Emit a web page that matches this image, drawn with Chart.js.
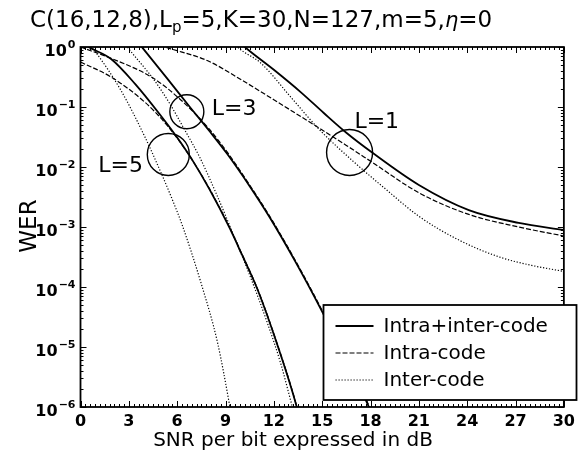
<!DOCTYPE html>
<html lang="en">
<head>
<meta charset="UTF-8">
<title>WER vs SNR</title>
<script src="https://cdn.jsdelivr.net/npm/chart.js@4"></script>
<style>
  html, body { margin: 0; padding: 0; background: #fff; }
  #werChart { display: block; }
</style>
</head>
<body>
<canvas id="werChart" width="580" height="454"></canvas>
<script>
// values: SNR per bit (dB) and WER for every curve
var l1SolidSnr  = [9.8, 10.2, 12.0, 13.7, 15.1, 16.5, 18.1, 21.0, 24.1, 27.2, 30];
var l1SolidWer  = [1.259, 1, 0.417, 0.174, 0.0794, 0.0372, 0.0174, 0.00501, 0.00191, 0.00117, 0.000891];
var l1DashedSnr = [4.5, 5.6, 7.9, 10.0, 12.0, 14.8, 16.5, 18.1, 21.0, 24.1, 27.2, 30];
var l1DashedWer = [1.148, 0.933, 0.589, 0.282, 0.132, 0.0447, 0.0229, 0.012, 0.00372, 0.00162, 0.001, 0.000708];
var l1DottedSnr = [9.3, 9.75, 11.2, 13.1, 14.8, 16.9, 18.9, 21.0, 23.5, 26.0, 28.0, 30];
var l1DottedWer = [1.413, 1, 0.537, 0.141, 0.0427, 0.0126, 0.00437, 0.00151, 0.000603, 0.000316, 0.000229, 0.000182];

var l3SolidSnr  = [3.5, 3.9, 5.4, 6.7, 8.0, 9.1, 10.5, 11.7, 13.3, 14.9, 16.4, 17.9, 18.2];
var l3SolidWer  = [1.259, 0.933, 0.295, 0.107, 0.0398, 0.0166, 0.00479, 0.00151, 0.000275, 4.37e-5, 6.92e-6, 1e-6, 6.31e-7];
var l3DashedSnr = [0, 1.9, 4.4, 6.05, 7.9, 9.1, 10.5, 11.7, 13.3, 14.9, 16.4, 17.9, 18.2];
var l3DashedWer = [1, 0.646, 0.316, 0.145, 0.0457, 0.0178, 0.00501, 0.00158, 0.000288, 4.57e-5, 7.24e-6, 1.05e-6, 6.31e-7];
var l3DottedSnr = [2.6, 3.0, 4.6, 5.6, 6.4, 7.4, 8.45, 9.4, 10.5, 11.6, 12.4, 13.15, 13.3];
var l3DottedWer = [1.318, 0.933, 0.275, 0.107, 0.0447, 0.0145, 0.00347, 0.000851, 0.000158, 2.51e-5, 5.62e-6, 1e-6, 7.08e-7];

var l5SolidSnr  = [0.2, 0.5, 1.9, 3.4, 4.94, 6.0, 7.0, 8.0, 9.26, 10.0, 11.0, 12.2, 13.4, 13.6];
var l5SolidWer  = [1.122, 1, 0.631, 0.24, 0.0741, 0.0309, 0.0123, 0.00427, 0.000955, 0.000355, 8.91e-5, 1.12e-5, 1.05e-6, 6.31e-7];
var l5DashedSnr = [0, 1.9, 4.0, 5.2, 6.0, 7.0, 8.0, 9.26, 10.0, 11.0, 12.2, 13.4, 13.6];
var l5DashedWer = [0.562, 0.316, 0.12, 0.0562, 0.0302, 0.0123, 0.00437, 0.000977, 0.000363, 9.12e-5, 1.15e-5, 1.07e-6, 6.31e-7];
var l5DottedSnr = [0.3, 0.9, 2.5, 4.0, 4.94, 5.74, 6.3, 7.5, 8.5, 9.26, 9.4];
var l5DottedWer = [1.318, 0.851, 0.191, 0.0316, 0.0087, 0.00269, 0.0011, 0.000112, 1.2e-5, 1.05e-6, 6.31e-7];

var xTicks = [0, 3, 6, 9, 12, 15, 18, 21, 24, 27, 30];
var yDecades = [-6, -5, -4, -3, -2, -1, 0];
var legendLabels = ['Intra+inter-code', 'Intra-code', 'Inter-code'];

// circled groups: label, circle centre (dB, WER), label anchor (dB, WER)
var groupNames  = ['L=1', 'L=3', 'L=5'];
var circleSnr   = [16.7, 6.6, 5.45];
var circleWer   = [0.0174, 0.0832, 0.0162];
var groupTxtSnr = [17.0, 8.15, 1.1];
var groupTxtWer = [0.0447, 0.0741, 0.00832];

var SOLID = [], DASHED = [5, 2], DOTTED = [1.2, 1.8];
var FONT = '"DejaVu Sans", "Liberation Sans", sans-serif';

function pts(xs, ys) {
    return xs.map(function (x, i) { return { x: x, y: ys[i] }; });
}

function curve(xs, ys, dash, width) {
    return {
        data: pts(xs, ys),
        showLine: true,
        borderColor: '#000',
        borderWidth: width,
        borderDash: dash,
        pointRadius: 0,
        cubicInterpolationMode: 'monotone',
        fill: false
    };
}

var decor = {
    id: 'decor',
    afterDatasetsDraw: function (chart) {
        var ctx = chart.ctx, a = chart.chartArea;
        var xs = chart.scales.x, ys = chart.scales.y;
        ctx.save();
        ctx.strokeStyle = '#000';
        ctx.fillStyle = '#000';

        function seg(x1, y1, x2, y2) {
            ctx.beginPath(); ctx.moveTo(x1, y1); ctx.lineTo(x2, y2); ctx.stroke();
        }

        // inward tick marks on all four sides
        ctx.lineWidth = 1;
        for (var i = 0; i <= 100; i++) {
            var px = Math.round(xs.getPixelForValue(i * 0.3)) + 0.5;
            var len = (i % 10 === 0) ? 6 : 3;
            seg(px, a.bottom, px, a.bottom - len);
            seg(px, a.top, px, a.top + len);
        }
        for (var d = -6; d <= 0; d++) {
            for (var m = 1; m <= 9; m++) {
                var v = m * Math.pow(10, d);
                if (v > 1.0001) break;
                var py = Math.round(ys.getPixelForValue(v)) + 0.5;
                var l = (m === 1) ? 6 : 3;
                seg(a.left, py, a.left + l, py);
                seg(a.right, py, a.right - l, py);
            }
        }

        // frame
        ctx.lineWidth = 1.8;
        ctx.strokeRect(a.left, a.top, a.right - a.left, a.bottom - a.top);

        // y tick labels: 10 with a raised exponent
        ctx.textAlign = 'right';
        ctx.textBaseline = 'alphabetic';
        yDecades.forEach(function (e) {
            var ty = ys.getPixelForValue(Math.pow(10, e));
            var xr = a.left - 5;
            var ex = e === 0 ? '0' : '\u2212' + (-e);
            ctx.font = 'bold 11px ' + FONT;
            var ew = ctx.measureText(ex).width;
            ctx.fillText(ex, xr, ty + 1);
            ctx.font = 'bold 16px ' + FONT;
            ctx.fillText('10', xr - ew - 1, ty + 9);
        });

        // circles and group labels
        var radius = [23, 17, 21];
        ctx.lineWidth = 1.4;
        ctx.font = '22px ' + FONT;
        ctx.textAlign = 'left';
        for (var g = 0; g < groupNames.length; g++) {
            ctx.beginPath();
            ctx.arc(xs.getPixelForValue(circleSnr[g]), ys.getPixelForValue(circleWer[g]), radius[g], 0, Math.PI * 2);
            ctx.stroke();
            ctx.fillText(groupNames[g], xs.getPixelForValue(groupTxtSnr[g]), ys.getPixelForValue(groupTxtWer[g]));
        }

        // legend box in the lower right corner
        var bx = a.left + 243, by = a.bottom - 102, bw = 253, bh = 95;
        ctx.fillStyle = '#fff';
        ctx.fillRect(bx, by, bw, bh);
        ctx.lineWidth = 1.8;
        ctx.strokeRect(bx, by, bw, bh);
        ctx.fillStyle = '#000';
        ctx.font = '20px ' + FONT;
        ctx.textBaseline = 'middle';
        var styles = [[SOLID, 1.8], [DASHED, 1.2], [DOTTED, 1.2]];
        for (var k = 0; k < legendLabels.length; k++) {
            var ry = by + 21 + k * 27;
            ctx.setLineDash(styles[k][0]);
            ctx.lineWidth = styles[k][1];
            seg(bx + 12, ry, bx + 50, ry);
            ctx.setLineDash([]);
            ctx.fillText(legendLabels[k], bx + 60, ry + 1);
        }

        // axis titles
        ctx.textAlign = 'center';
        ctx.textBaseline = 'alphabetic';
        ctx.font = '20px ' + FONT;
        ctx.fillText('SNR per bit expressed in dB', 293, 446);
        ctx.save();
        ctx.translate(30, 226);
        ctx.rotate(-Math.PI / 2);
        ctx.textBaseline = 'middle';
        ctx.font = '23px ' + FONT;
        ctx.fillText('WER', 0, 0);
        ctx.restore();

        // title with subscript p and italic eta
        var parts = [['C(16,12,8),L', '23px ', 0], ['p', '15px ', 5], ['=5,K=30,N=127,m=5,', '23px ', 0],
                     ['\u03B7', 'italic 21px ', 0], ['=0', '23px ', 0]];
        var tx = 30;
        ctx.textAlign = 'left';
        for (var p = 0; p < parts.length; p++) {
            ctx.font = parts[p][1] + FONT;
            ctx.fillText(parts[p][0], tx, 27 + parts[p][2]);
            tx += ctx.measureText(parts[p][0]).width;
        }
        ctx.restore();
    }
};

new Chart(document.getElementById('werChart'), {
    type: 'scatter',
    data: {
        datasets: [
            curve(l1SolidSnr, l1SolidWer, SOLID, 1.8),
            curve(l1DashedSnr, l1DashedWer, DASHED, 1.2),
            curve(l1DottedSnr, l1DottedWer, DOTTED, 1.2),
            curve(l3SolidSnr, l3SolidWer, SOLID, 1.8),
            curve(l3DashedSnr, l3DashedWer, DASHED, 1.2),
            curve(l3DottedSnr, l3DottedWer, DOTTED, 1.2),
            curve(l5SolidSnr, l5SolidWer, SOLID, 1.8),
            curve(l5DashedSnr, l5DashedWer, DASHED, 1.2),
            curve(l5DottedSnr, l5DottedWer, DOTTED, 1.2)
        ]
    },
    options: {
        responsive: false,
        animation: false,
        devicePixelRatio: 1,
        layout: { padding: { left: 0, top: 47, right: 13, bottom: 0 } },
        plugins: { legend: { display: false }, tooltip: { enabled: false }, title: { display: false } },
        scales: {
            x: {
                type: 'linear',
                min: 0,
                max: 30,
                afterBuildTicks: function (s) { s.ticks = xTicks.map(function (v) { return { value: v }; }); },
                afterFit: function (s) { s.height = 47; },
                grid: { display: false, drawTicks: false },
                border: { display: false },
                ticks: { color: '#000', padding: 5, maxRotation: 0, font: { family: FONT, size: 16, weight: 'bold' } }
            },
            y: {
                type: 'logarithmic',
                min: 1e-6,
                max: 1,
                afterFit: function (s) { s.width = 80.5; },
                grid: { display: false, drawTicks: false },
                border: { display: false },
                ticks: { display: false }
            }
        }
    },
    plugins: [decor]
});
</script>
</body>
</html>
